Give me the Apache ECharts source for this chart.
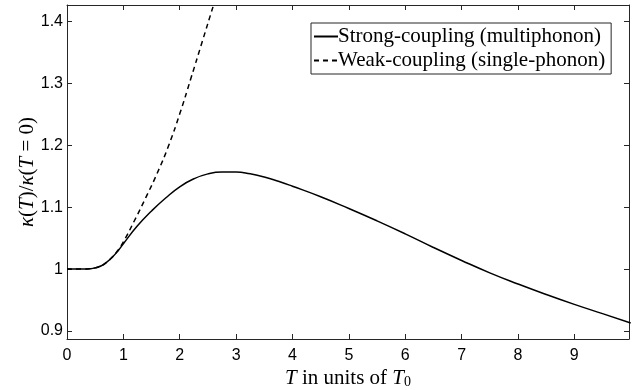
<!DOCTYPE html>
<html>
<head>
<meta charset="utf-8">
<script src="https://cdn.jsdelivr.net/npm/echarts@6/dist/echarts.min.js"></script>
<style>
  html, body { margin: 0; padding: 0; background: #fff; }
  #main { width: 638px; height: 390px; }
</style>
</head>
<body>
<div id="main"></div>
<script>
// 强耦合（多声子）曲线
var tStrong = [0, 0.2, 0.3, 0.4, 0.5, 0.6, 0.7, 0.8, 0.9, 1.0, 1.25, 1.5, 1.75, 2.0, 2.25, 2.5, 2.75, 3.0, 3.25, 3.5, 3.75, 4.0, 4.5, 5.0, 5.5, 6.0, 6.5, 7.0, 7.5, 8.0, 8.5, 9.0, 9.5, 10.0]
var kStrong = [1.0, 1.0, 1.0, 1.0005, 1.002, 1.005, 1.011, 1.019, 1.029, 1.041, 1.07, 1.094, 1.115, 1.133, 1.146, 1.154, 1.157, 1.157, 1.154, 1.149, 1.142, 1.134, 1.117, 1.098, 1.078, 1.057, 1.035, 1.014, 0.994, 0.976, 0.959, 0.943, 0.928, 0.913]
// 弱耦合（单声子）曲线
var tWeak = [0, 0.2, 0.3, 0.4, 0.5, 0.6, 0.7, 0.8, 0.9, 1.0, 1.2, 1.4, 1.6, 1.8, 2.0, 2.2, 2.4, 2.6, 2.8]
var kWeak = [1.0, 1.0, 1.0, 1.0005, 1.002, 1.005, 1.011, 1.019, 1.03, 1.044, 1.079, 1.116, 1.155, 1.199, 1.251, 1.309, 1.368, 1.427, 1.486]

var xTicks = [0, 1, 2, 3, 4, 5, 6, 7, 8, 9]
var yTicks = [0.9, 1, 1.1, 1.2, 1.3, 1.4]
var legendNames = ['Strong-coupling (multiphonon)', 'Weak-coupling (single-phonon)']

function pairs(xs, ys) {
    var out = []
    for (var i = 0; i < xs.length; i++) {
        out.push([xs[i], ys[i]])
    }
    return out
}

var chart = echarts.init(document.getElementById('main'))

var axisColor = '#262626'
var xMin = 0, xMax = 9.97
var yMin = 0.887, yMax = 1.427

option = {
    backgroundColor: '#fff',
    animation: false,
    grid: {
        left: 67, right: 9, top: 5, bottom: 51,
        containLabel: false,
        outerBoundsMode: 'none'
    },
    legend: {
        orient: 'vertical',
        left: 311,
        top: 23,
        padding: [3, 6, 3, 2],
        itemGap: 3,
        itemWidth: 24,
        itemHeight: 12,
        backgroundColor: '#fff',
        borderColor: axisColor,
        borderWidth: 1,
        data: legendNames,
        itemStyle: { opacity: 0 },
        textStyle: {
            fontFamily: 'Liberation Serif',
            fontSize: 21,
            color: '#000',
            padding: [0, 0, 0, -5]
        }
    },
    xAxis: [{
        type: 'value',
        min: xMin,
        max: xMax,
        position: 'bottom',
        name: '{i|T} in units of {i|T}{sub|0}',
        nameLocation: 'middle',
        nameGap: 28,
        nameMoveOverlap: false,
        nameTextStyle: {
            fontFamily: 'Liberation Serif',
            fontSize: 21,
            color: '#000',
            rich: {
                i: { fontFamily: 'Liberation Serif', fontSize: 21, fontStyle: 'italic', color: '#000' },
                sub: { fontFamily: 'Liberation Serif', fontSize: 14, color: '#000', verticalAlign: 'bottom', padding: [8, 0, 0, 0] }
            }
        },
        axisLine: { show: true, onZero: false, lineStyle: { color: axisColor, width: 1 } },
        axisTick: { show: true, inside: true, length: 5, customValues: xTicks, lineStyle: { color: axisColor } },
        axisLabel: {
            customValues: xTicks,
            margin: 9,
            fontFamily: 'Liberation Sans',
            fontSize: 16,
            color: '#000'
        },
        splitLine: { show: false }
    }, {
        type: 'value',
        min: xMin,
        max: xMax,
        position: 'top',
        axisLine: { show: true, onZero: false, lineStyle: { color: axisColor, width: 1 } },
        axisTick: { show: true, inside: true, length: 5, customValues: xTicks, lineStyle: { color: axisColor } },
        axisLabel: { show: false },
        splitLine: { show: false }
    }],
    yAxis: [{
        type: 'value',
        min: yMin,
        max: yMax,
        position: 'left',
        name: '{i|κ}({i|T})/{i|κ}({i|T} = 0)',
        nameLocation: 'middle',
        nameGap: 29,
        nameRotate: 90,
        nameMoveOverlap: false,
        nameTextStyle: {
            fontFamily: 'Liberation Serif',
            fontSize: 21,
            color: '#000',
            rich: {
                i: { fontFamily: 'Liberation Serif', fontSize: 21, fontStyle: 'italic', color: '#000' }
            }
        },
        axisLine: { show: true, onZero: false, lineStyle: { color: axisColor, width: 1 } },
        axisTick: { show: true, inside: true, length: 5, customValues: yTicks, lineStyle: { color: axisColor } },
        axisLabel: {
            customValues: yTicks,
            margin: 4,
            fontFamily: 'Liberation Sans',
            fontSize: 16,
            color: '#000',
            formatter: function (v) { return String(Math.round(v * 10) / 10) }
        },
        splitLine: { show: false }
    }, {
        type: 'value',
        min: yMin,
        max: yMax,
        position: 'right',
        axisLine: { show: true, onZero: false, lineStyle: { color: axisColor, width: 1 } },
        axisTick: { show: true, inside: true, length: 5, customValues: yTicks, lineStyle: { color: axisColor } },
        axisLabel: { show: false },
        splitLine: { show: false }
    }],
    series: [{
        name: legendNames[0],
        type: 'line',
        data: pairs(tStrong, kStrong),
        smooth: 0.5,
        symbol: 'none',
        clip: true,
        lineStyle: { color: '#000', width: 1.5 },
        itemStyle: { color: '#000' },
        z: 3
    }, {
        name: legendNames[1],
        type: 'line',
        data: pairs(tWeak, kWeak),
        smooth: 0.5,
        symbol: 'none',
        clip: true,
        lineStyle: { color: '#000', width: 1.5, type: [5, 4] },
        itemStyle: { color: '#000' },
        z: 2
    }]
}

chart.setOption(option)
</script>
</body>
</html>
